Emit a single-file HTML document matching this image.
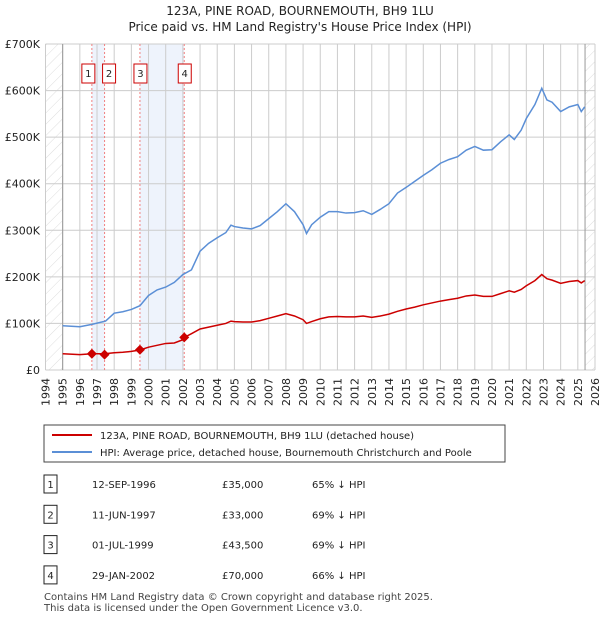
<!DOCTYPE html>
<html><head><meta charset="utf-8"><style>
body{margin:0;background:#fff;font-family:"Liberation Sans","DejaVu Sans",sans-serif;}
svg text{font-family:"DejaVu Sans","Liberation Sans",sans-serif;}
</style></head><body>
<svg id="c" width="600" height="620" viewBox="0 0 600 620" xmlns="http://www.w3.org/2000/svg">
<defs><pattern id="h" width="8" height="8" patternUnits="userSpaceOnUse" patternTransform="rotate(45)"><line x1="0" y1="0" x2="0" y2="8" stroke="#ddd" stroke-width="1"/></pattern></defs>
<text x="300" y="15" text-anchor="middle" font-size="12" fill="#222">123A, PINE ROAD, BOURNEMOUTH, BH9 1LU</text>
<text x="300" y="31" text-anchor="middle" font-size="12" fill="#222">Price paid vs. HM Land Registry's House Price Index (HPI)</text>
<g id="plot"></g>
<g>
<rect x="44" y="425" width="461" height="37" fill="#fff" stroke="#444"/>
<line x1="52" y1="435" x2="92" y2="435" stroke="#cc0000" stroke-width="2"/>
<text x="100" y="439" font-size="10" fill="#222">123A, PINE ROAD, BOURNEMOUTH, BH9 1LU (detached house)</text>
<line x1="52" y1="452" x2="92" y2="452" stroke="#5b8fd6" stroke-width="2"/>
<text x="100" y="456" font-size="10" fill="#222">HPI: Average price, detached house, Bournemouth Christchurch and Poole</text>
</g>
<g id="table" font-size="10" fill="#222"></g>
<text x="44" y="600" font-size="10" fill="#444">Contains HM Land Registry data © Crown copyright and database right 2025.</text>
<text x="44" y="611" font-size="10" fill="#444">This data is licensed under the Open Government Licence v3.0.</text>
</svg>
<script>
const yearTicks=[1994,1995,1996,1997,1998,1999,2000,2001,2002,2003,2004,2005,2006,2007,2008,2009,2010,2011,2012,2013,2014,2015,2016,2017,2018,2019,2020,2021,2022,2023,2024,2025,2026];
const valueTicks=[0,100,200,300,400,500,600,700];
const valueLabels=["£0","£100K","£200K","£300K","£400K","£500K","£600K","£700K"];
const hpiDates=[1995,1996,1996.7,1997.5,1998,1998.5,1999,1999.5,2000,2000.5,2001,2001.5,2002,2002.5,2003,2003.5,2004,2004.5,2004.8,2005,2005.5,2006,2006.5,2007,2007.5,2008,2008.5,2009,2009.2,2009.5,2010,2010.5,2011,2011.5,2012,2012.5,2013,2013.5,2014,2014.5,2015,2015.5,2016,2016.5,2017,2017.5,2018,2018.5,2019,2019.5,2020,2020.5,2021,2021.3,2021.7,2022,2022.5,2022.9,2023.2,2023.5,2024,2024.5,2025,2025.2,2025.4];
const hpiValues=[95,93,98,105,122,125,130,138,160,172,178,188,205,215,255,272,284,295,311,308,305,303,310,325,340,357,340,312,293,312,328,340,340,337,338,342,334,345,357,380,392,405,418,430,444,452,458,472,480,472,473,490,505,495,515,540,570,605,580,575,555,565,570,555,565];
const propDates=[1995,1996,1996.7,1997.44,1998,1998.5,1999,1999.5,2000,2000.5,2001,2001.5,2002,2002.08,2002.5,2003,2003.5,2004,2004.5,2004.8,2005,2005.5,2006,2006.5,2007,2007.5,2008,2008.5,2009,2009.2,2009.5,2010,2010.5,2011,2011.5,2012,2012.5,2013,2013.5,2014,2014.5,2015,2015.5,2016,2016.5,2017,2017.5,2018,2018.5,2019,2019.5,2020,2020.5,2021,2021.3,2021.7,2022,2022.5,2022.9,2023.2,2023.5,2024,2024.5,2025,2025.2,2025.4];
const propValues=[35,33,35,35,37,38,40,43,49,53,57,58,65,70,78,88,92,96,100,105,104,103,103,106,111,116,121,116,108,100,104,110,114,115,114,114,116,113,116,120,126,131,135,140,144,148,151,154,159,161,158,158,164,170,167,173,181,192,205,196,193,186,190,192,187,192];
const saleLabels=["1","2","3","4"];
const saleDates=[1996.7,1997.44,1999.5,2002.08];
const salePrices=[35,33,43.5,70];
const saleDateText=["12-SEP-1996","11-JUN-1997","01-JUL-1999","29-JAN-2002"];
const salePriceText=["£35,000","£33,000","£43,500","£70,000"];
const saleHpiText=["65% ↓ HPI","69% ↓ HPI","69% ↓ HPI","66% ↓ HPI"];

const NS="http://www.w3.org/2000/svg";
const L=45.5,R=595,T=44,B=370;
const x=d=>L+(d-1994)*(R-L)/32;
const y=v=>B-v*(B-T)/700;
const plot=document.getElementById('plot');
function mk(tag,attrs,parent){const e=document.createElementNS(NS,tag);for(const k in attrs)e.setAttribute(k,attrs[k]);(parent||plot).appendChild(e);return e;}
mk('rect',{x:L,y:T,width:R-L,height:B-T,fill:'#fff'});
let e=mk('rect',{x:L,y:T,width:x(1995)-L,height:B-T,fill:'url(#h)'});


e=mk('rect',{x:x(2025.42),y:T,width:R-x(2025.42),height:B-T,fill:'url(#h)'});


for(let i=0;i<saleDates.length;i+=2){
 e=mk('rect',{x:x(saleDates[i]),y:T,width:x(saleDates[i+1])-x(saleDates[i]),height:B-T,fill:'#eef3fc'});
 
 
}
yearTicks.forEach(yr=>{
 e=mk('line',{x1:x(yr),x2:x(yr),y1:T,y2:B,stroke:'#ccc'});
 
 
 e=mk('text',{transform:`translate(${x(yr)+4},378) rotate(-90)`,'text-anchor':'end','font-size':11,fill:'#222'});
 e.textContent=yr;
 
 
});
valueTicks.forEach((v,i)=>{
 e=mk('line',{x1:L,x2:R,y1:y(v),y2:y(v),stroke:'#ccc'});
 
 
 e=mk('text',{x:40,y:y(v)+4,'text-anchor':'end','font-size':11,fill:'#222'});
 e.textContent=valueLabels[i];
 
 
});
e=mk('line',{x1:x(1995),x2:x(1995),y1:T,y2:B,stroke:'#999'});


e=mk('line',{x1:x(2025.42),x2:x(2025.42),y1:T,y2:B,stroke:'#999'});


saleDates.forEach((d,i)=>{
 e=mk('line',{x1:x(d),x2:x(d),y1:T,y2:B,stroke:'#f08080','stroke-dasharray':'2,2'});
 
 
});
e=mk('polyline',{points:hpiDates.map((d,i)=>x(d)+','+y(hpiValues[i])).join(' '),fill:'none',stroke:'#5b8fd6','stroke-width':1.5});


e=mk('polyline',{points:propDates.map((d,i)=>x(d)+','+y(propValues[i])).join(' '),fill:'none',stroke:'#cc0000','stroke-width':1.5});


saleDates.forEach((d,i)=>{
 const cx=x(d),cy=y(salePrices[i]);
 e=mk('polygon',{points:`${cx},${cy-5} ${cx+5},${cy} ${cx},${cy+5} ${cx-5},${cy}`,fill:'#cc0000'});
 
 
 const off=[-4,4,0,0][i];
 const bx=x(d)+off-6;
 e=mk('rect',{x:bx,y:64,width:13,height:19,fill:'#fff',stroke:'#cc0000'});
 
 
 e=mk('text',{x:bx+6.5,y:77,'text-anchor':'middle','font-size':10,fill:'#222'});
 e.textContent=saleLabels[i];
 
 
});
const tb=document.getElementById('table');
saleLabels.forEach((s,i)=>{
 const ry=484+i*30.3;
 e=mk('rect',{x:44,y:ry-9,width:13,height:18,fill:'#fff',stroke:'#222'},tb);
 
 
 e=mk('text',{x:50.5,y:ry+4,'text-anchor':'middle'},tb);e.textContent=s;
 
 
 e=mk('text',{x:92,y:ry+4},tb);e.textContent=saleDateText[i];
 
 
 e=mk('text',{x:222,y:ry+4},tb);e.textContent=salePriceText[i];
 
 
 e=mk('text',{x:312,y:ry+4},tb);e.textContent=saleHpiText[i];
 
 
});
</script>
</body></html>
